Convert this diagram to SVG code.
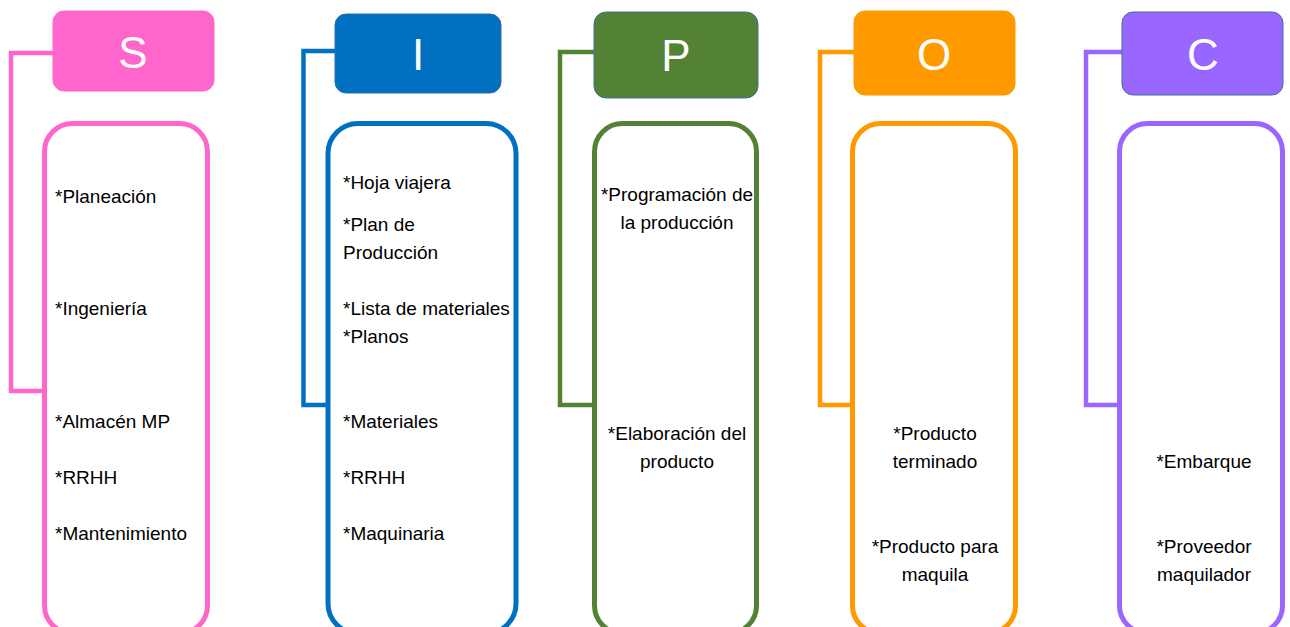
<svg xmlns="http://www.w3.org/2000/svg" width="1290" height="627" viewBox="0 0 1290 627">
<style>
.hdr{stroke-width:1}
.box{fill:#fff;stroke-width:5}
.con{fill:none;stroke-width:4.5}
.ht{font-family:"Liberation Sans",Arial,sans-serif;font-size:44px;fill:#fff;text-anchor:middle}
.t{font-family:"Liberation Sans",Arial,sans-serif;font-size:19px;fill:#000}
.c{text-anchor:middle}
</style>
<rect width="1290" height="627" fill="#fff"/>
<g id="connectors">
<path class="con" stroke="#FF66CC" d="M53,53 H11 V391 H44"/>
<path class="con" stroke="#0070C0" d="M335,51 H303.5 V405 H328"/>
<path class="con" stroke="#548235" d="M594,52 H560 V405 H594"/>
<path class="con" stroke="#FF9900" d="M854,52 H820 V405 H852"/>
<path class="con" stroke="#9966FF" d="M1122,52 H1086 V405 H1119"/>
</g>
<g id="S">
<rect class="hdr" x="53" y="11" width="161" height="80" rx="11" fill="#FF66CC" stroke="#FF66CC"/>
<text class="ht" x="133" y="68">S</text>
<rect class="box" x="44.5" y="123.5" width="163" height="510" rx="28" stroke="#FF66CC"/>
<text class="t" x="55" y="203">*Planeación</text>
<text class="t" x="55" y="315">*Ingeniería</text>
<text class="t" x="55" y="428">*Almacén MP</text>
<text class="t" x="55" y="484">*RRHH</text>
<text class="t" x="55" y="540">*Mantenimiento</text>
</g>
<g id="I">
<rect class="hdr" x="335" y="14" width="166" height="79" rx="11" fill="#0070C0" stroke="#2F6FA8"/>
<text class="ht" x="418" y="70">I</text>
<rect class="box" x="328" y="123.5" width="188" height="510" rx="30" stroke="#0070C0"/>
<text class="t" x="343" y="189">*Hoja viajera</text>
<text class="t" x="343" y="231">*Plan de</text>
<text class="t" x="343" y="259">Producción</text>
<text class="t" x="343" y="315">*Lista de materiales</text>
<text class="t" x="343" y="343">*Planos</text>
<text class="t" x="343" y="428">*Materiales</text>
<text class="t" x="343" y="484">*RRHH</text>
<text class="t" x="343" y="540">*Maquinaria</text>
</g>
<g id="P">
<rect class="hdr" x="594" y="12" width="164" height="86" rx="12" fill="#548235" stroke="#41719C"/>
<text class="ht" x="676" y="71">P</text>
<rect class="box" x="594.5" y="123.5" width="162" height="510" rx="28" stroke="#548235"/>
<text class="t c" x="677" y="201">*Programación de</text>
<text class="t c" x="677" y="229">la producción</text>
<text class="t c" x="677" y="440">*Elaboración del</text>
<text class="t c" x="677" y="468">producto</text>
</g>
<g id="O">
<rect class="hdr" x="854" y="11" width="161" height="84" rx="11" fill="#FF9900" stroke="#FF9900"/>
<text class="ht" x="934" y="70">O</text>
<rect class="box" x="852.5" y="123.5" width="163" height="510" rx="28" stroke="#FF9900"/>
<text class="t c" x="935" y="440">*Producto</text>
<text class="t c" x="935" y="468">terminado</text>
<text class="t c" x="935" y="553">*Producto para</text>
<text class="t c" x="935" y="581">maquila</text>
</g>
<g id="C">
<rect class="hdr" x="1122" y="12" width="161" height="83" rx="11" fill="#9966FF" stroke="#41719C"/>
<text class="ht" x="1203" y="70">C</text>
<rect class="box" x="1119.5" y="123.5" width="163" height="510" rx="28" stroke="#9966FF"/>
<text class="t c" x="1204" y="468">*Embarque</text>
<text class="t c" x="1204" y="553">*Proveedor</text>
<text class="t c" x="1204" y="581">maquilador</text>
</g>
</svg>
